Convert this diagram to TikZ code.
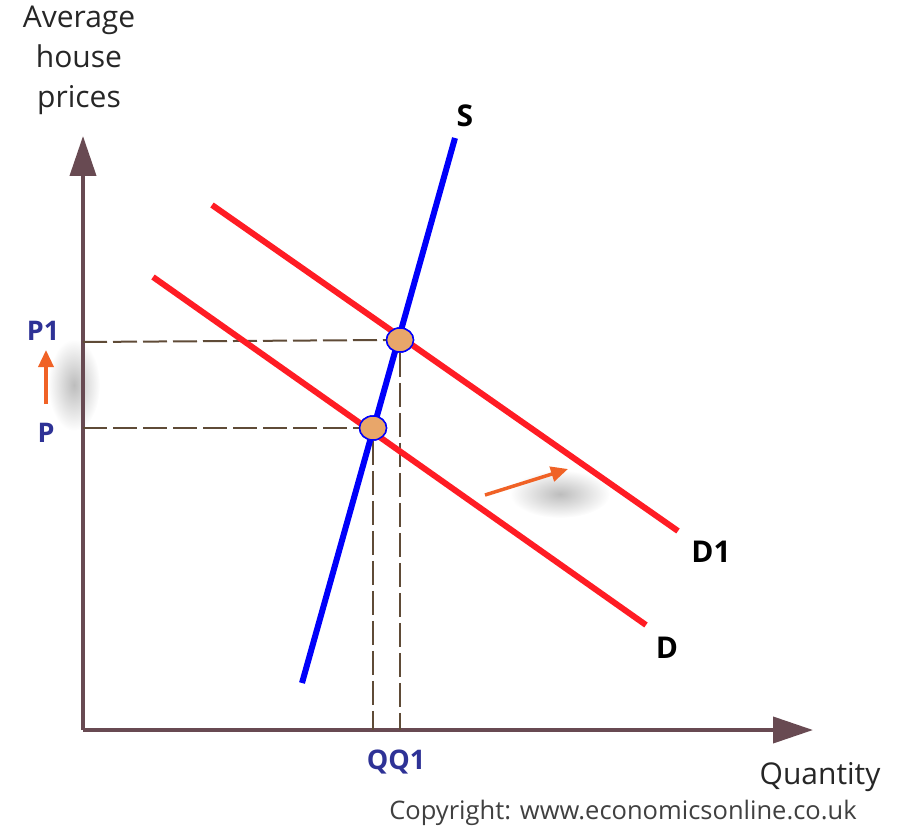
\documentclass[tikz,border=0pt]{standalone}
\usepackage{fontspec}
\setmainfont{Open Sans}
\usetikzlibrary{arrows.meta,shapes.geometric}
\definecolor{axisbrown}{RGB}{104,74,82}
\definecolor{dashbrown}{RGB}{95,75,55}
\definecolor{curvered}{RGB}{255,28,36}
\definecolor{supblue}{RGB}{0,0,250}
\definecolor{lblblue}{RGB}{46,50,150}
\definecolor{shiftorange}{RGB}{240,98,38}
\definecolor{dotfill}{RGB}{232,166,106}
\tikzset{
  axisline/.style={line width=4pt,draw=axisbrown,-{Triangle[length=40pt,width=26pt]}},
  guide/.style={line width=2pt,draw=dashbrown,dash pattern=on 24pt off 6pt},
  demand/.style={line width=6pt,draw=curvered},
  supply/.style={line width=6pt,draw=supblue},
  shiftarrow/.style={line width=3.5pt,draw=shiftorange,-{Triangle[length=17pt,width=15pt]}},
  eqdot/.style={ellipse,draw=supblue,line width=1.5pt,fill=dotfill,minimum width=27pt,minimum height=24pt,inner sep=0pt},
  curvelbl/.style={font=\fontsize{30}{36}\selectfont\bfseries,text=black},
  pricelbl/.style={font=\fontsize{27}{32}\selectfont\bfseries,text=lblblue},
  axislbl/.style={font=\fontsize{30}{40}\selectfont,text=black!85,align=center}
}
\begin{document}
\begin{tikzpicture}[x=1pt,y=-1pt]
  \useasboundingbox (0,0) rectangle (899,829);

  % Soft shadows
  \shade[inner color=black!26,outer color=white] (74,385) ellipse (26 and 46);
  \shade[inner color=black!26,outer color=white] (560,494) ellipse (50 and 24);

  % Axes
  \coordinate (origin) at (83,730);
  \coordinate (ytop) at (83,136);
  \coordinate (xend) at (813,730);
  \draw[axisline] (origin) -- (ytop);
  \draw[axisline] (origin) -- (xend);

  % Equilibrium points
  \node[eqdot] (e1) at (400,340) {};
  \node[eqdot] (e0) at (373,428) {};

  % Guide lines
  \coordinate (p1) at (83,342);
  \coordinate (p0) at (83,428);
  \coordinate (q1) at (400,730);
  \coordinate (q0) at (373,730);
  \draw[guide] (p1) -- (e1.west);
  \draw[guide] (p0) -- (e0.west);
  \draw[guide] (e1.south) -- (q1);
  \draw[guide] (e0.south) -- (q0);

  % Demand curves
  \coordinate (d1a) at (212,205);
  \coordinate (d1b) at (678,531);
  \coordinate (d0a) at (153,277);
  \coordinate (d0b) at (646,625);
  \draw[demand] (d1a) -- (d1b);
  \draw[demand] (d0a) -- (d0b);

  % Supply curve
  \coordinate (sa) at (302,683);
  \coordinate (sb) at (455,138);
  \draw[supply] (sa) -- (sb);

  % Redraw dots on top
  \node[eqdot] at (e1) {};
  \node[eqdot] at (e0) {};

  % Shift arrows
  \coordinate (pa) at (46,404);
  \coordinate (pb) at (46,350);
  \draw[shiftarrow] (pa) -- (pb);
  \coordinate (da) at (485,495);
  \coordinate (db) at (568,469);
  \draw[shiftarrow] (da) -- (db);

  % Labels
  \node[curvelbl] (slbl) at (465,116) {S};
  \node[curvelbl] (d1lbl) at (711,552) {D1};
  \node[curvelbl] (d0lbl) at (667,648) {D};
  \node[pricelbl] (p1lbl) at (43,331) {P1};
  \node[pricelbl] (p0lbl) at (46,433) {P};
  \node[pricelbl] (qlbl) at (396,762) {QQ1};
  \node[axislbl] (ylbl) at (79,60) {Average\\house\\prices};
  \node[axislbl] (xlbl) at (820,777) {Quantity};
  \node[font=\fontsize{25.5}{30}\selectfont,text=black!75] (copy) at (623,813) {Copyright: www.economicsonline.co.uk};
\end{tikzpicture}
\end{document}
